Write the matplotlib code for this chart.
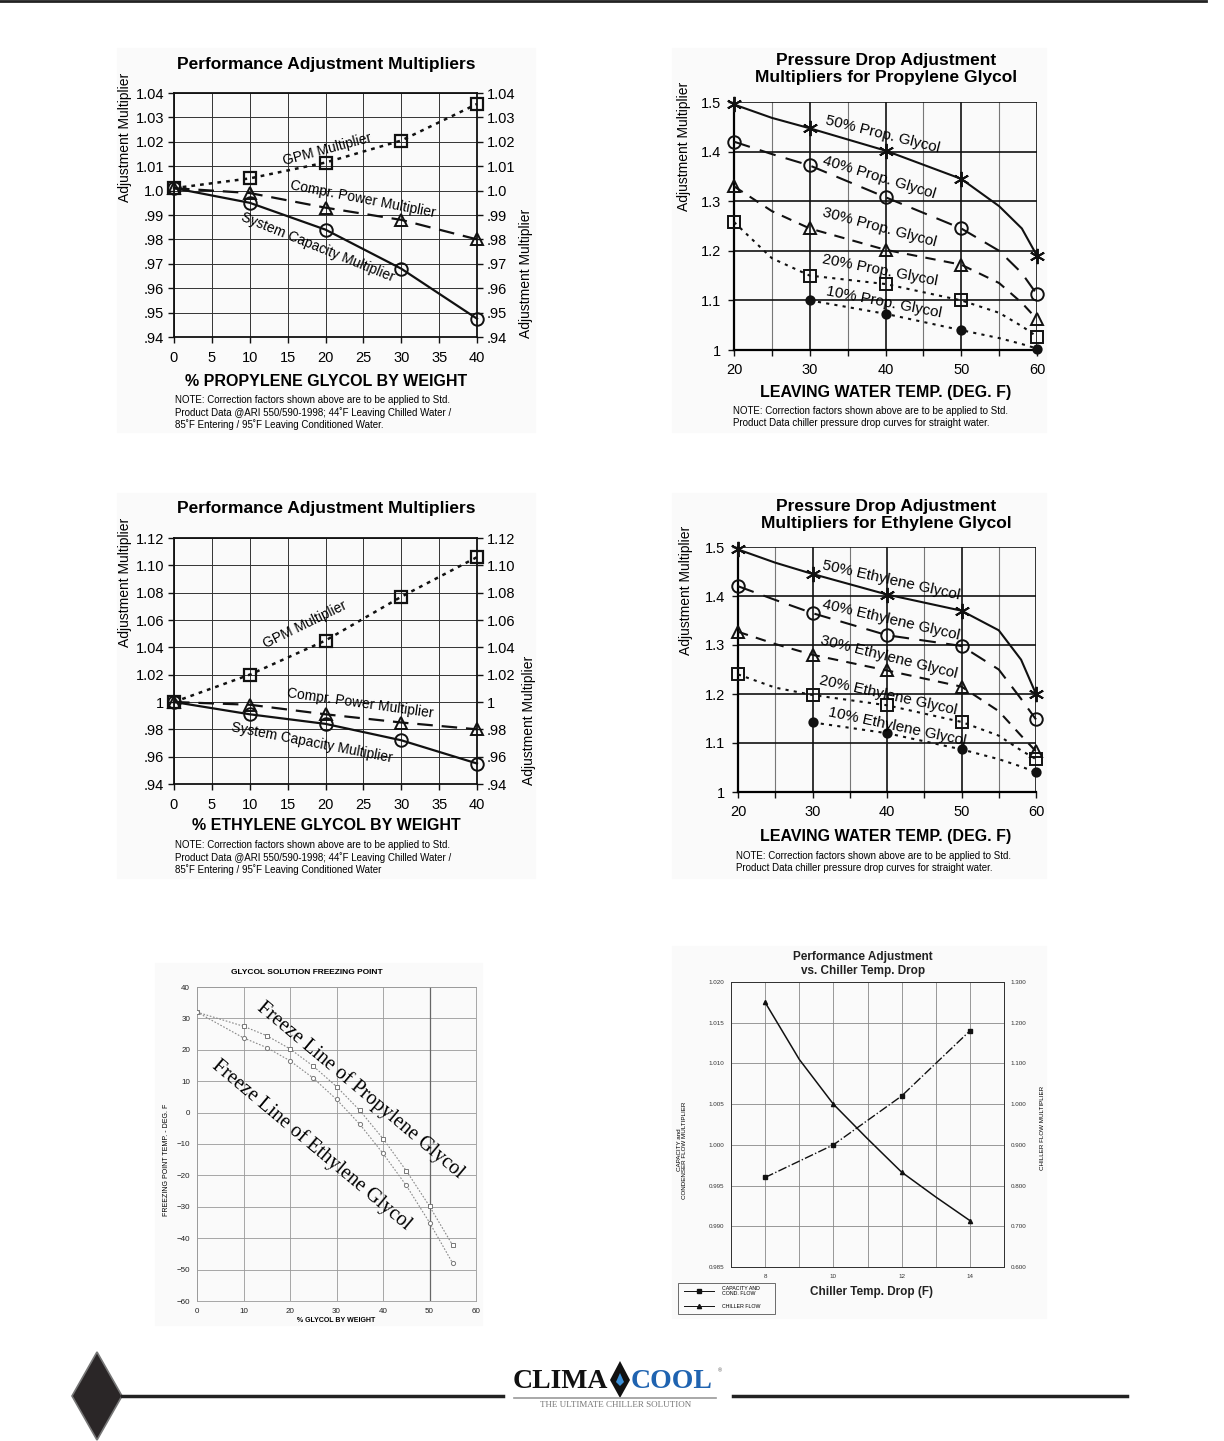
import numpy as np
import matplotlib
matplotlib.use('Agg')
import matplotlib.pyplot as plt
from matplotlib.patches import Polygon, Rectangle
from matplotlib.lines import Line2D

plt.rcParams['font.family'] = ['Liberation Sans', 'DejaVu Sans']

W, H = 1224, 1441

# ---- Performance multipliers, propylene glycol
pg_pct = [0, 10, 20, 30, 40]
pg_gpm = [1.001, 1.005, 1.0115, 1.0205, 1.0355]
pg_power = [1.001, 0.999, 0.993, 0.988, 0.980]
pg_capacity = [1.001, 0.995, 0.984, 0.968, 0.9475]
pg_yticks = [0.94, 0.95, 0.96, 0.97, 0.98, 0.99, 1.0, 1.01, 1.02, 1.03, 1.04]
pg_ylabels = ['.94', '.95', '.96', '.97', '.98', '.99', '1.0', '1.01', '1.02', '1.03', '1.04']

# ---- Performance multipliers, ethylene glycol
eg_pct = [0, 10, 20, 30, 40]
eg_gpm = [1.000, 1.020, 1.045, 1.077, 1.106]
eg_power = [1.000, 0.998, 0.991, 0.985, 0.980]
eg_capacity = [1.000, 0.991, 0.984, 0.972, 0.955]
eg_yticks = [0.94, 0.96, 0.98, 1.00, 1.02, 1.04, 1.06, 1.08, 1.10, 1.12]
eg_ylabels = ['.94', '.96', '.98', '1', '1.02', '1.04', '1.06', '1.08', '1.10', '1.12']

pct_ticks = [0, 5, 10, 15, 20, 25, 30, 35, 40]

# ---- Pressure drop multipliers (curve read at these temps, markers every 10 F)
lwt = [20, 25, 30, 40, 50, 55, 58, 60]
lwt_marks = [0, 2, 3, 4, 7]
prop50 = [1.495, 1.468, 1.447, 1.402, 1.345, 1.290, 1.245, 1.190]
prop40 = [1.420, 1.395, 1.372, 1.308, 1.245, 1.200, 1.155, 1.112]
prop30 = [1.330, 1.280, 1.245, 1.202, 1.172, 1.135, 1.095, 1.062]
prop20 = [1.258, 1.185, 1.150, 1.133, 1.100, 1.075, 1.048, 1.027]
prop10 = [np.nan, np.nan, 1.100, 1.073, 1.040, 1.024, 1.012, 1.003]
eth50 = [1.495, 1.468, 1.445, 1.403, 1.370, 1.330, 1.270, 1.200]
eth40 = [1.420, 1.392, 1.365, 1.320, 1.298, 1.250, 1.190, 1.148]
eth30 = [1.327, 1.302, 1.280, 1.248, 1.215, 1.165, 1.115, 1.083]
eth20 = [1.240, 1.213, 1.198, 1.177, 1.143, 1.115, 1.085, 1.067]
eth10 = [np.nan, np.nan, 1.142, 1.120, 1.087, 1.067, 1.052, 1.040]
pd_yticks = [1.0, 1.1, 1.2, 1.3, 1.4, 1.5]
pd_ylabels = ['1', '1.1', '1.2', '1.3', '1.4', '1.5']

# ---- Freezing point
fz_pct = [0, 10, 15, 20, 25, 30, 35, 40, 45, 50, 55]
fz_propylene = [32, 27.5, 24.5, 20.3, 14.8, 8.3, 0.7, -8.3, -18.5, -29.8, -42.3]
fz_ethylene = [32, 23.8, 20.7, 16.5, 11.0, 4.2, -3.7, -13.0, -23.2, -35.0, -48.0]

# ---- Chiller temp drop
td_cap = [8, 10, 12, 14]
cap_mult = [0.996, 1.000, 1.006, 1.014]
td_flow = [8, 9, 10, 11, 12, 13, 14]
flow_mult = [1.250, 1.110, 1.000, 0.915, 0.833, 0.772, 0.714]
flow_marks = [0, 2, 4, 6]

fig = plt.figure(figsize=(W / 100, H / 100), dpi=100)


def rect(x0, y0, x1, y1):
    return [x0 / W, 1 - y1 / H, (x1 - x0) / W, (y1 - y0) / H]


def ftext(x, y, s, **kw):
    kw.setdefault('ha', 'center')
    kw.setdefault('va', 'center')
    return fig.text(x / W, 1 - y / H, s, **kw)


def panel(x0, y0, x1, y1):
    fig.patches.append(Rectangle((x0 / W, 1 - y1 / H), (x1 - x0) / W, (y1 - y0) / H,
                                 transform=fig.transFigure, color='#fafafa', zorder=-5))


# page decorations
fig.add_artist(Line2D([0, 1206 / W], [1 - 1 / H] * 2, color='#222', lw=2))
for p in [(117, 48, 535, 432), (672, 48, 1046, 432), (117, 493, 535, 878),
          (672, 493, 1046, 878), (155, 963, 482, 1325), (672, 946, 1046, 1318)]:
    panel(*p)


def perf_chart(box, xs, gpm, power, cap, yticks, ylabels, ylim):
    ax = fig.add_axes(rect(*box))
    ax.set_facecolor('none')
    ax.plot(xs, gpm, ls=(0, (1.5, 2)), color='#111', lw=1.8, marker='s', ms=9,
            mfc='none', mec='#111', mew=1.6, clip_on=False, zorder=3)
    ax.plot(xs, power, ls=(0, (7, 4)), color='#111', lw=1.6, marker='^', ms=9,
            mfc='none', mec='#111', mew=1.4, clip_on=False, zorder=3)
    ax.plot(xs, cap, ls='-', color='#111', lw=1.6, marker='o', ms=9,
            mfc='none', mec='#111', mew=1.4, clip_on=False, zorder=3)
    ax.set_xlim(0, 40)
    ax.set_ylim(*ylim)
    ax.set_xticks(pct_ticks)
    ax.set_xticklabels([str(t) for t in pct_ticks])
    ax.set_yticks(yticks)
    ax.set_yticklabels(ylabels)
    ax.grid(True, color='#333', lw=0.7)
    ax.tick_params(axis='both', labelsize=10.5, length=4, width=1, color='#111', pad=3)
    ax.tick_params(axis='x', pad=6)
    ax.tick_params(axis='y', left=True, right=True, labelleft=True, labelright=True)
    for s in ax.spines.values():
        s.set_linewidth(1.3)
        s.set_color('#111')
    return ax


def pd_chart(box, series, marks):
    ax = fig.add_axes(rect(*box))
    ax.set_facecolor('none')
    styles = [('-', '*', 11, 'none'), ((0, (8, 5)), 'o', 9, 'none'),
              ((0, (5, 4)), '^', 8, 'none'), ((0, (1.5, 2.5)), 's', 8, 'none'),
              ((0, (1.5, 2.5)), 'o', 6, '#111')]
    for ys, (ls, mk, ms, fc) in zip(series, styles):
        marker = (6, 2, 0) if mk == '*' else mk
        ax.plot(lwt, ys, ls=ls, color='#111', lw=1.5, marker=marker, ms=ms,
                mfc=fc, mec='#111', mew=1.4, markevery=marks, clip_on=False, zorder=3)
    ax.set_xlim(20, 60)
    ax.set_ylim(1.0, 1.5)
    ax.set_xticks([20, 25, 30, 35, 40, 45, 50, 55, 60])
    ax.set_xticklabels(['20', '', '30', '', '40', '', '50', '', '60'])
    ax.set_yticks(pd_yticks)
    ax.set_yticklabels(pd_ylabels)
    for x in [25, 35, 45, 55]:
        ax.axvline(x, color='#777', lw=0.8, zorder=1)
    for x in [20, 30, 40, 50, 60]:
        ax.axvline(x, color='#111', lw=1.2, zorder=1)
    for y in pd_yticks:
        ax.axhline(y, color='#111', lw=1.2, zorder=1)
    ax.tick_params(axis='both', labelsize=10.5, length=4, width=1, color='#111', pad=5)
    for s in ax.spines.values():
        s.set_visible(False)
    ax.spines['left'].set_visible(True)
    ax.spines['left'].set_linewidth(1.6)
    ax.spines['bottom'].set_visible(True)
    ax.spines['bottom'].set_linewidth(1.6)
    return ax


# ---- chart 1
perf_chart((174, 93, 477, 337), pg_pct, pg_gpm, pg_power, pg_capacity,
           pg_yticks, pg_ylabels, (0.94, 1.04))
ftext(326, 64, 'Performance Adjustment Multipliers', fontsize=12.5, fontweight='bold')
ftext(326, 381, '% PROPYLENE GLYCOL BY WEIGHT', fontsize=11.5, fontweight='bold')
ftext(125, 137, 'Adjustment Multiplier', fontsize=10, rotation=90)
ftext(526, 273, 'Adjustment Multiplier', fontsize=10, rotation=90)
ftext(175, 395, 'NOTE: Correction factors shown above are to be applied to Std.\n'
      'Product Data @ARI 550/590-1998; 44\u02daF Leaving Chilled Water /\n'
      '85\u02daF Entering / 95\u02daF Leaving Conditioned Water.',
      fontsize=7, ha='left', va='top', linespacing=1.2)
ftext(327, 149, 'GPM Multiplier', fontsize=10, rotation=15)
ftext(363, 199, 'Compr. Power Multiplier', fontsize=10, rotation=-11)
ftext(318, 247, 'System Capacity Multiplier', fontsize=10, rotation=-22)

# ---- chart 3
perf_chart((174, 538, 477, 784), eg_pct, eg_gpm, eg_power, eg_capacity,
           eg_yticks, eg_ylabels, (0.94, 1.12))
ftext(326, 509, 'Performance Adjustment Multipliers', fontsize=12.5, fontweight='bold')
ftext(326, 826, '% ETHYLENE GLYCOL BY WEIGHT', fontsize=11.5, fontweight='bold')
ftext(125, 582, 'Adjustment Multiplier', fontsize=10, rotation=90)
ftext(529, 720, 'Adjustment Multiplier', fontsize=10, rotation=90)
ftext(175, 840, 'NOTE: Correction factors shown above are to be applied to Std.\n'
      'Product Data @ARI 550/590-1998; 44\u02daF Leaving Chilled Water /\n'
      '85\u02daF Entering / 95\u02daF Leaving Conditioned Water',
      fontsize=7, ha='left', va='top', linespacing=1.2)
ftext(305, 625, 'GPM Multiplier', fontsize=10, rotation=26)
ftext(360, 703, 'Compr. Power Multiplier', fontsize=10, rotation=-8)
ftext(312, 743, 'System Capacity Multiplier', fontsize=10, rotation=-11)

# ---- chart 2
pd_chart((734, 102, 1037, 350), [prop50, prop40, prop30, prop20, prop10], lwt_marks)
ftext(886, 69, 'Pressure Drop Adjustment\nMultipliers for Propylene Glycol',
      fontsize=12.5, fontweight='bold', linespacing=1.15)
ftext(886, 392, 'LEAVING WATER TEMP. (DEG. F)', fontsize=11.5, fontweight='bold')
ftext(684, 146, 'Adjustment Multiplier', fontsize=10, rotation=90)
ftext(733, 406, 'NOTE: Correction factors shown above are to be applied to Std.\n'
      'Product Data chiller pressure drop curves for straight water.',
      fontsize=7, ha='left', va='top', linespacing=1.2)
for (cx, cy, r, s) in [(883, 134, -14, '50% Prop. Glycol'), (879, 177, -17, '40% Prop. Glycol'),
                       (879, 227, -15, '30% Prop. Glycol'), (880, 270, -11, '20% Prop. Glycol'),
                       (884, 302, -11, '10% Prop. Glycol')]:
    ftext(cx, cy, s, fontsize=11, rotation=r)

# ---- chart 4
pd_chart((738, 547, 1036, 792), [eth50, eth40, eth30, eth20, eth10], lwt_marks)
ftext(886, 515, 'Pressure Drop Adjustment\nMultipliers for Ethylene Glycol',
      fontsize=12.5, fontweight='bold', linespacing=1.15)
ftext(886, 836, 'LEAVING WATER TEMP. (DEG. F)', fontsize=11.5, fontweight='bold')
ftext(686, 590, 'Adjustment Multiplier', fontsize=10, rotation=90)
ftext(736, 851, 'NOTE: Correction factors shown above are to be applied to Std.\n'
      'Product Data chiller pressure drop curves for straight water.',
      fontsize=7, ha='left', va='top', linespacing=1.2)
for (cx, cy, r, s) in [(891, 580, -12.5, '50% Ethylene Glycol'), (891, 620, -13, '40% Ethylene Glycol'),
                       (889, 657, -14, '30% Ethylene Glycol'), (888, 695, -12.5, '20% Ethylene Glycol'),
                       (897, 727, -12, '10% Ethylene Glycol')]:
    ftext(cx, cy, s, fontsize=11, rotation=r)

# ---- chart 5: freezing point
ax5 = fig.add_axes(rect(197, 987, 476, 1301))
ax5.set_facecolor('none')
ax5.plot(fz_pct, fz_propylene, ls=(0, (1.5, 1.5)), color='#888', lw=0.8, marker='s', ms=3.5,
         mfc='white', mec='#777', mew=0.7, zorder=3)
ax5.plot(fz_pct, fz_ethylene, ls=(0, (1.5, 1.5)), color='#888', lw=0.8, marker='o', ms=3,
         mfc='white', mec='#777', mew=0.7, zorder=3)
ax5.set_xlim(0, 60)
ax5.set_ylim(-60, 40)
ax5.set_xticks(range(0, 61, 10))
ax5.set_yticks(range(-60, 41, 10))
ax5.grid(True, color='#999', lw=0.6)
ax5.axvline(50, color='#666', lw=0.9)
ax5.tick_params(axis='both', labelsize=5.8, length=0, pad=5, labelcolor='#222')
for s in ax5.spines.values():
    s.set_color('#999')
    s.set_linewidth(0.6)
ftext(307, 972, 'GLYCOL SOLUTION FREEZING POINT', fontsize=6, fontweight='bold')
ftext(336, 1320, '% GLYCOL BY WEIGHT', fontsize=5, fontweight='bold')
ftext(167, 1160, 'FREEZING POINT TEMP. - DEG. F', fontsize=5, rotation=90)
ftext(360, 1090, 'Freeze Line of Propylene Glycol', fontsize=14.5, rotation=-40,
      family=['Liberation Serif', 'DejaVu Serif'])
ftext(312, 1145, 'Freeze Line of Ethylene Glycol', fontsize=14.5, rotation=-40,
      family=['Liberation Serif', 'DejaVu Serif'])

# ---- chart 6: chiller temp drop
ax6 = fig.add_axes(rect(731, 982, 1004, 1267))
ax6.set_facecolor('none')
ax6.plot(td_cap, cap_mult, ls='-.', color='#111', lw=1.0, marker='s', ms=3,
         mfc='#111', mec='#111', zorder=3)
ax6.set_xlim(7, 15)
ax6.set_ylim(0.985, 1.020)
ax6.set_xticks([8, 10, 12, 14])
ax6.set_xticks(range(7, 16), minor=True)
ax6.set_yticks(np.arange(0.985, 1.0201, 0.005))
ax6.set_yticklabels(['%.3f' % v for v in np.arange(0.985, 1.0201, 0.005)])
ax6.grid(True, which='both', axis='x', color='#888', lw=0.6)
ax6.grid(True, axis='y', color='#888', lw=0.6)
ax6.tick_params(axis='both', which='both', labelsize=4.5, length=0, pad=5, labelcolor='#333')
ax6r = ax6.twinx()
ax6r.plot(td_flow, flow_mult, ls='-', color='#111', lw=1.1, marker='^', ms=3,
          mfc='#111', mec='#111', markevery=flow_marks, zorder=3)
ax6r.set_ylim(0.6, 1.3)
ax6r.set_yticks(np.arange(0.6, 1.301, 0.1))
ax6r.set_yticklabels(['%.3f' % v for v in np.arange(0.6, 1.301, 0.1)])
ax6r.tick_params(axis='y', labelsize=4.5, length=0, pad=5, labelcolor='#333')
for a in (ax6, ax6r):
    for s in a.spines.values():
        s.set_color('#333')
        s.set_linewidth(0.7)
ftext(863, 964, 'Performance Adjustment\nvs. Chiller Temp. Drop', fontsize=8.5,
      linespacing=1.15, color='#222', fontweight='semibold')
ftext(872, 1292, 'Chiller Temp. Drop (F)', fontsize=8.5, fontweight='bold', color='#222')
ftext(682, 1150, 'CAPACITY and\nCONDENSER FLOW MULTIPLIER', fontsize=4.5, rotation=90,
      linespacing=1.0)
ftext(1042, 1128, 'CHILLER FLOW MULTIPLIER', fontsize=4.5, rotation=90)
fig.patches.append(Rectangle((678 / W, 1 - 1314 / H), 97 / W, 31 / H, transform=fig.transFigure,
                             fill=False, ec='#555', lw=0.6))
fig.add_artist(Line2D([684 / W, 714 / W], [1 - 1291 / H] * 2, color='#111', lw=0.7))
fig.add_artist(Line2D([699 / W], [1 - 1291 / H], color='#111', marker='s', ms=3, ls='none'))
fig.add_artist(Line2D([684 / W, 714 / W], [1 - 1306 / H] * 2, color='#111', lw=0.7))
fig.add_artist(Line2D([699 / W], [1 - 1306 / H], color='#111', marker='^', ms=3, ls='none'))
ftext(722, 1291, 'CAPACITY AND\nCOND. FLOW', fontsize=3.8, ha='left', linespacing=0.9)
ftext(722, 1306, 'CHILLER FLOW', fontsize=3.8, ha='left')

# ---- footer
fig.patches.append(Polygon([(97 / W, 1 - 1352 / H), (122 / W, 1 - 1396 / H),
                            (97 / W, 1 - 1440 / H), (72 / W, 1 - 1396 / H)],
                           closed=True, transform=fig.transFigure, fc='#2a2627', ec='#777', lw=1.2))
fig.add_artist(Line2D([122 / W, 503 / W], [1 - 1396 / H] * 2, color='#222', lw=2.5))
fig.add_artist(Line2D([733 / W, 1127 / W], [1 - 1396 / H] * 2, color='#222', lw=2.5))
fig.add_artist(Line2D([514 / W, 716 / W], [1 - 1398 / H] * 2, color='#999', lw=1.2))
ftext(608, 1388, 'CLIMA', fontsize=20, ha='right', va='baseline', fontweight='bold',
      family=['Liberation Serif', 'DejaVu Serif'], color='#111')
ftext(631, 1388, 'COOL', fontsize=20, ha='left', va='baseline', fontweight='bold',
      family=['Liberation Serif', 'DejaVu Serif'], color='#1f63b0')
ftext(718, 1371, '\u00ae', fontsize=4, ha='left', color='#555')
fig.patches.append(Polygon([(620 / W, 1 - 1361 / H), (630 / W, 1 - 1380 / H),
                            (620 / W, 1 - 1398 / H), (610 / W, 1 - 1380 / H)],
                           closed=True, transform=fig.transFigure, fc='#111', ec='none'))
fig.patches.append(Polygon([(620 / W, 1 - 1373 / H), (624 / W, 1 - 1382 / H),
                            (620 / W, 1 - 1386 / H), (616 / W, 1 - 1382 / H)],
                           closed=True, transform=fig.transFigure, fc='#3a8fd8', ec='none'))
ftext(616, 1405, 'THE ULTIMATE CHILLER SOLUTION', fontsize=6.5,
      family=['Liberation Serif', 'DejaVu Serif'], color='#777')

fig.savefig('out.png', dpi=100)
